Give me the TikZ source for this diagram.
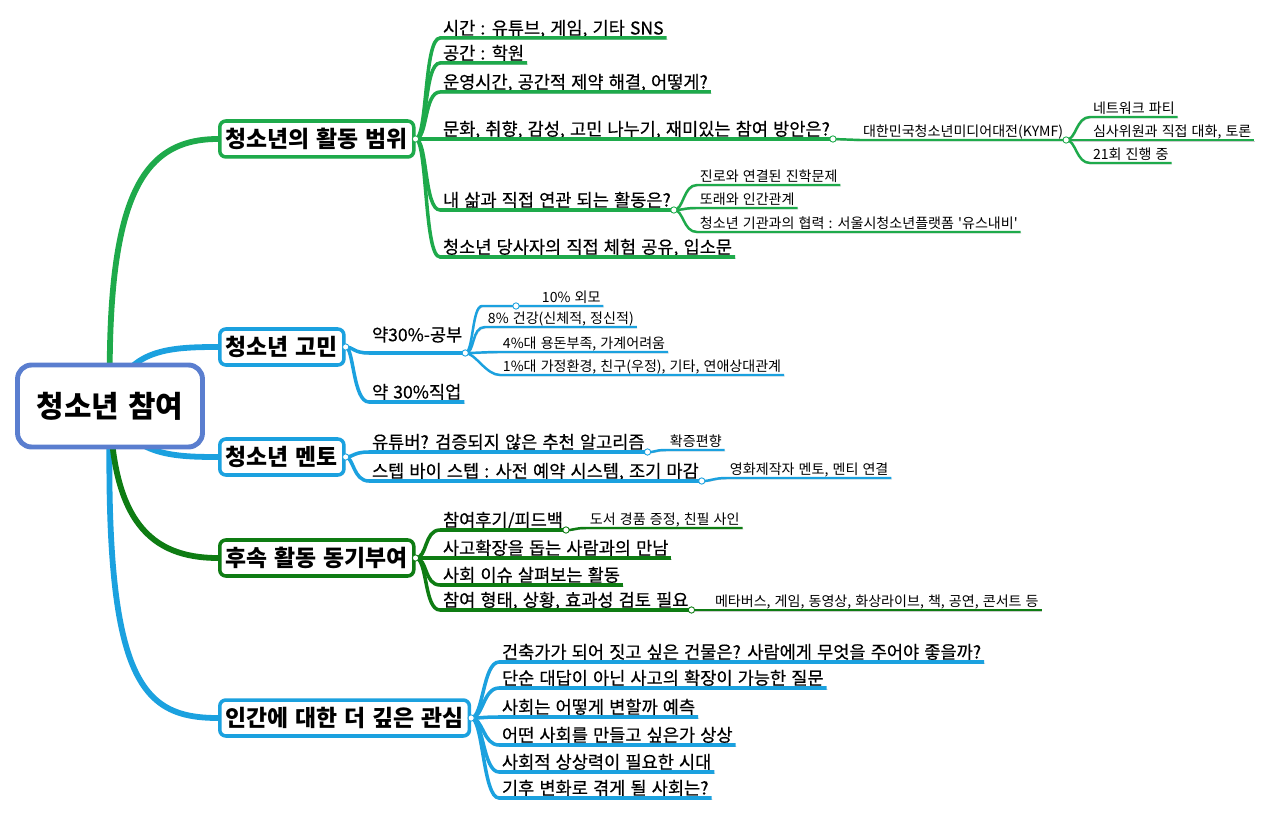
\documentclass[tikz,border=0pt]{standalone}
\usepackage{fontspec}
\setmainfont[WordSpace=1.3]{Noto Sans CJK KR}
\newfontfamily\subfont[WordSpace=1.3, FakeBold=0.5]{Noto Sans CJK KR}
\usetikzlibrary{shadows, backgrounds}
\definecolor{MapGreen}{HTML}{1EAA4B}
\definecolor{MapDark}{HTML}{0E7C13}
\definecolor{MapBlue}{HTML}{1BA1DF}
\definecolor{RootBlue}{HTML}{5A7ECF}
\tikzset{
  % Box styles
  rootbox/.style={rectangle, rounded corners=8pt, draw=RootBlue, line width=2.8pt, fill=white, minimum width=3.7cm, minimum height=1.64cm, font=\fontsize{17}{20}\selectfont\bfseries, drop shadow={shadow xshift=1pt, shadow yshift=-1pt, opacity=0.3}},
  topicbox/.style={rectangle, rounded corners=3.5pt, draw=#1, line width=2pt, fill=white, minimum height=0.72cm, inner xsep=3.5pt, anchor=west, font=\fontsize{13}{15}\selectfont\bfseries, drop shadow={shadow xshift=0.8pt, shadow yshift=-0.8pt, opacity=0.3}},
  subtopic/.style={anchor=south west, inner xsep=1.5pt, inner ysep=1.8pt, text depth=0pt, font=\subfont\fontsize{10}{12}\selectfont},
  detail/.style={subtopic, font=\normalfont\fontsize{8}{10}\selectfont},
  % Line styles
  trunk/.style={#1, line width=3.3pt},
  branch/.style={#1, line width=2pt, preaction={draw=black!22, transform canvas={shift={(0.5pt,-0.7pt)}}}},
  twig/.style={#1, line width=1.4pt, preaction={draw=black!20, transform canvas={shift={(0.4pt,-0.6pt)}}}},
  % Node styles
  joint/.style={circle, draw=#1, fill=white, line width=0.5pt, inner sep=0pt, minimum size=3.6pt}
}

\begin{document}
\begin{tikzpicture}[x=0.02cm, y=-0.02cm]
  \useasboundingbox (0,0) rectangle (1280,813);

  % Central topic
  \node[rootbox] (root) at (110,406) {청소년 참여};

  % Main topics
  \node[topicbox=MapGreen] (range) at (218,139) {청소년의 활동 범위};
  \node[topicbox=MapBlue] (worry) at (218,347) {청소년 고민};
  \node[topicbox=MapBlue] (mentor) at (218,457) {청소년 멘토};
  \node[topicbox=MapDark] (follow) at (218,558) {후속 활동 동기부여};
  \node[topicbox=MapBlue] (human) at (218,718) {인간에 대한 더 깊은 관심};

  % Activity range
  \node[subtopic] (range1) at (440,38) {시간 : 유튜브, 게임, 기타 SNS};
  \node[subtopic] (range2) at (440,63) {공간 : 학원};
  \node[subtopic] (range3) at (440,92) {운영시간, 공간적 제약 해결, 어떻게?};
  \node[subtopic] (range4) at (440,139) {문화, 취향, 감성, 고민 나누기, 재미있는 참여 방안은?};
  \node[subtopic] (range5) at (440,210) {내 삶과 직접 연관 되는 활동은?};
  \node[subtopic] (range6) at (440,257) {청소년 당사자의 직접 체험 공유, 입소문};
  \node[detail] (kymf) at (860,140) {대한민국청소년미디어대전(KYMF)};
  \node[detail] (kymf1) at (1090,117) {네트워크 파티};
  \node[detail] (kymf2) at (1090,140) {심사위원과 직접 대화, 토론};
  \node[detail] (kymf3) at (1090,163) {21회 진행 중};
  \node[detail] (life1) at (697,185) {진로와 연결된 진학문제};
  \node[detail] (life2) at (697,208) {또래와 인간관계};
  \node[detail] (life3) at (697,232) {청소년 기관과의 협력 : 서울시청소년플랫폼 \textquotesingle 유스내비\textquotesingle};

  % Worries
  \node[subtopic, text depth=4.7pt] (worry1) at (369,353) {약30\%-공부};
  \node[subtopic] (worry2) at (369,402) {약 30\%직업};
  \coordinate (looks-in) at (482,306);
  \coordinate (looks) at (516,306);
  \node[detail] (study1) at (539,306) {10\% 외모};
  \node[detail] (study2) at (485,327) {8\% 건강(신체적, 정신적)};
  \node[detail] (study3) at (500,352) {4\%대 용돈부족, 가계어려움};
  \node[detail] (study4) at (500,375) {1\%대 가정환경, 친구(우정), 기타, 연애상대관계};

  % Mentors
  \node[subtopic] (mentor1) at (369,452) {유튜버? 검증되지 않은 추천 알고리즘};
  \node[subtopic] (mentor2) at (369,481) {스텝 바이 스텝 : 사전 예약 시스템, 조기 마감};
  \node[detail] (bias) at (667,450) {확증편향};
  \node[detail] (film) at (727,478) {영화제작자 멘토, 멘티 연결};

  % Follow-up
  \node[subtopic] (follow1) at (440,530) {참여후기/피드백};
  \node[subtopic] (follow2) at (440,558) {사고확장을 돕는 사람과의 만남};
  \node[subtopic] (follow3) at (440,585) {사회 이슈 살펴보는 활동};
  \node[subtopic] (follow4) at (440,610) {참여 형태, 상황, 효과성 검토 필요};
  \node[detail] (gift) at (587,528) {도서 경품 증정, 친필 사인};
  \node[detail] (media) at (712,610) {메타버스, 게임, 동영상, 화상라이브, 책, 공연, 콘서트 등};

  % Deeper interest
  \node[subtopic] (human1) at (499,662) {건축가가 되어 짓고 싶은 건물은? 사람에게 무엇을 주어야 좋을까?};
  \node[subtopic] (human2) at (499,688) {단순 대답이 아닌 사고의 확장이 가능한 질문};
  \node[subtopic] (human3) at (499,717) {사회는 어떻게 변할까 예측};
  \node[subtopic] (human4) at (499,745) {어떤 사회를 만들고 싶은가 상상};
  \node[subtopic] (human5) at (499,772) {사회적 상상력이 필요한 시대};
  \node[subtopic] (human6) at (499,798) {기후 변화로 겪게 될 사회는?};

  % Trunks
  \begin{scope}[on background layer]
    \draw[trunk=MapGreen] (root.center) .. controls (106,200) and (140,139) .. (range.west);
    \draw[trunk=MapBlue] (root.center) .. controls (125,350) and (165,347) .. (worry.west);
    \draw[trunk=MapBlue] (root.center) .. controls (130,455) and (170,457) .. (mentor.west);
    \draw[trunk=MapBlue] (root.center) .. controls (104,680) and (140,718) .. (human.west);
    \draw[trunk=MapDark] (root.center) .. controls (112,520) and (150,558) .. (follow.west);
  \end{scope}

  % Branches
  \foreach \i in {1,...,6}
    \draw[branch=MapGreen] (range.east) .. controls +(12,0) and +(-16,0) .. (range\i.south west) -- (range\i.south east);
  \draw[twig=MapGreen] (range4.south east) -- (kymf.south west) -- (kymf.south east);
  \foreach \i in {1,2,3} {
    \draw[twig=MapGreen] (kymf.south east) .. controls +(10,0) and +(-14,0) .. (kymf\i.south west) -- (kymf\i.south east);
    \draw[twig=MapGreen] (range5.south east) .. controls +(10,0) and +(-14,0) .. (life\i.south west) -- (life\i.south east);
  }

  \foreach \i in {1,2}
    \draw[branch=MapBlue] (worry.east) .. controls +(8,0) and +(-16,0) .. (worry\i.south west) -- (worry\i.south east);
  \draw[twig=MapBlue] (worry1.south east) .. controls +(8,0) and +(-10,0) .. (looks-in) -- (looks) -- (study1.south west) -- (study1.south east);
  \foreach \i in {2,3,4}
    \draw[twig=MapBlue] (worry1.south east) .. controls +(10,0) and +(-14,0) .. (study\i.south west) -- (study\i.south east);

  \foreach \i in {1,2}
    \draw[branch=MapBlue] (mentor.east) .. controls +(8,0) and +(-16,0) .. (mentor\i.south west) -- (mentor\i.south east);
  \draw[twig=MapBlue] (mentor1.south east) .. controls +(10,0) and +(-14,0) .. (bias.south west) -- (bias.south east);
  \draw[twig=MapBlue] (mentor2.south east) .. controls +(10,0) and +(-14,0) .. (film.south west) -- (film.south east);

  \foreach \i in {1,...,4}
    \draw[branch=MapDark] (follow.east) .. controls +(12,0) and +(-16,0) .. (follow\i.south west) -- (follow\i.south east);
  \draw[twig=MapDark] (follow1.south east) .. controls +(10,0) and +(-14,0) .. (gift.south west) -- (gift.south east);
  \draw[twig=MapDark] (follow4.south east) .. controls +(10,0) and +(-14,0) .. (media.south west) -- (media.south east);

  \foreach \i in {1,...,6}
    \draw[branch=MapBlue] (human.east) .. controls +(12,0) and +(-16,0) .. (human\i.south west) -- (human\i.south east);

  % Joints
  \foreach \n/\c in {range/MapGreen, worry/MapBlue, mentor/MapBlue, follow/MapDark, human/MapBlue}
    \node[joint=\c] (\n-j) at (\n.east) {};
  \foreach \n/\c in {range4/MapGreen, kymf/MapGreen, range5/MapGreen, worry1/MapBlue, mentor1/MapBlue, mentor2/MapBlue, follow1/MapDark, follow4/MapDark}
    \node[joint=\c] (\n-j) at (\n.south east) {};
  \node[joint=MapBlue] (looks-j) at (looks) {};
\end{tikzpicture}
\end{document}
